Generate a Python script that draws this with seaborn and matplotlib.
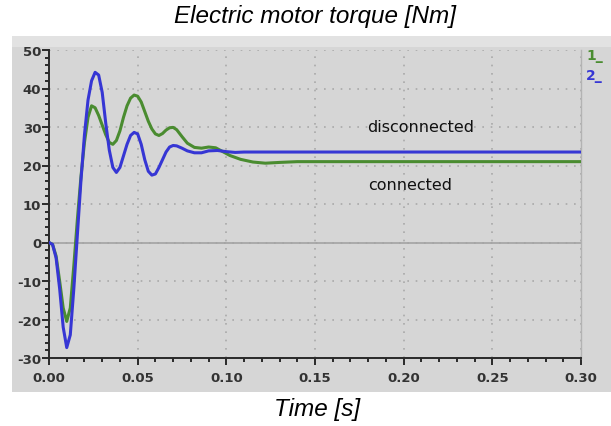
import numpy as np
import pandas as pd
import matplotlib
matplotlib.use("Agg")
import matplotlib.pyplot as plt
from matplotlib.patches import Rectangle
from matplotlib.ticker import MultipleLocator
import seaborn as sns

# ---- data ----
t_blue = [0.000, 0.002, 0.004, 0.006, 0.008, 0.010, 0.012, 0.014, 0.016, 0.018,
          0.020, 0.022, 0.024, 0.026, 0.028, 0.030, 0.032, 0.034, 0.036, 0.038,
          0.040, 0.042, 0.044, 0.046, 0.048, 0.050, 0.052, 0.054, 0.056, 0.058,
          0.060, 0.062, 0.064, 0.066, 0.068, 0.070, 0.072, 0.075, 0.078, 0.082,
          0.086, 0.090, 0.095, 0.100, 0.105, 0.110, 0.300]
y_blue = [0.0, -0.5, -4.0, -12.0, -22.0, -27.3, -24.0, -12.0, 2.0, 16.0,
          28.0, 37.0, 42.0, 44.2, 43.5, 39.0, 31.0, 24.0, 19.5, 18.2,
          19.5, 22.5, 25.5, 27.8, 28.6, 28.2, 25.5, 21.5, 18.5, 17.5,
          17.8, 19.5, 21.5, 23.5, 24.8, 25.2, 25.1, 24.5, 23.8, 23.3,
          23.3, 23.8, 23.9, 23.6, 23.4, 23.5, 23.5]

t_green = [0.000, 0.002, 0.004, 0.006, 0.008, 0.010, 0.012, 0.014, 0.016, 0.018,
           0.020, 0.022, 0.024, 0.026, 0.028, 0.030, 0.032, 0.034, 0.036, 0.038,
           0.040, 0.042, 0.044, 0.046, 0.048, 0.050, 0.052, 0.054, 0.056, 0.058,
           0.060, 0.062, 0.064, 0.066, 0.068, 0.070, 0.072, 0.075, 0.078, 0.082,
           0.086, 0.090, 0.094, 0.098, 0.102, 0.108, 0.115, 0.122, 0.130, 0.140,
           0.300]
y_green = [0.0, -0.5, -3.5, -10.0, -17.0, -20.5, -17.0, -6.0, 6.0, 17.0,
           26.0, 32.5, 35.5, 35.0, 33.0, 30.5, 28.0, 26.0, 25.5, 26.5,
           29.0, 32.5, 35.5, 37.5, 38.3, 38.0, 36.5, 34.0, 31.5, 29.5,
           28.2, 27.8, 28.3, 29.2, 29.8, 29.9, 29.3, 27.5, 25.8, 24.7,
           24.5, 24.8, 24.6, 23.6, 22.6, 21.6, 20.9, 20.6, 20.8, 21.0,
           21.0]

series_names = ["1", "2"]
series_colors = ["#4a8c30", "#3636d4"]
title = "Electric motor torque [Nm]"
xlabel = "Time [s]"
annotations = ["disconnected", "connected"]

df = pd.concat([
    pd.DataFrame({"t": t_green, "torque": y_green, "series": "1"}),
    pd.DataFrame({"t": t_blue, "torque": y_blue, "series": "2"}),
], ignore_index=True)

# ---- figure ----
sns.set_theme(style="white")
plt.rcParams["font.family"] = ["DejaVu Sans"]
plt.rcParams["axes.unicode_minus"] = False

W, H = 611, 427
fig = plt.figure(figsize=(W / 100, H / 100), dpi=100)
fig.patch.set_facecolor("white")

def fx(px):
    return px / W

def fy(py):
    return 1 - py / H

# gray panel background
fig.add_artist(Rectangle((fx(12), fy(393)), 1 - fx(12), fy(37) - fy(393),
                         transform=fig.transFigure, facecolor="#d6d6d6",
                         edgecolor="none", zorder=0))
fig.add_artist(Rectangle((fx(12), fy(48)), 1 - fx(12), fy(37) - fy(48),
                         transform=fig.transFigure, facecolor="#e2e2e2",
                         edgecolor="none", zorder=0))

ax = fig.add_axes([fx(49), fy(359), fx(581) - fx(49), fy(51) - fy(359)])
ax.set_facecolor("#d6d6d6")

sns.lineplot(data=df, x="t", y="torque", hue="series", palette=series_colors,
             hue_order=series_names, ax=ax, linewidth=2.2, legend=False,
             sort=False, zorder=3)

ax.set_xlim(0, 0.30)
ax.set_ylim(-30, 50)
ax.xaxis.set_major_locator(MultipleLocator(0.05))
ax.xaxis.set_minor_locator(MultipleLocator(0.01))
ax.yaxis.set_major_locator(MultipleLocator(10))
ax.yaxis.set_minor_locator(MultipleLocator(2))
ax.xaxis.set_major_formatter(matplotlib.ticker.FormatStrFormatter("%.2f"))

ax.grid(True, which="major", color="#a9a9a9", linestyle=(0, (1, 4)), linewidth=1.2, zorder=1)
ax.axhline(0, color="#a3a3a3", linewidth=1.2, zorder=2)

ax.spines["top"].set_visible(False)
ax.spines["right"].set_color("#b3b3b3")
ax.spines["right"].set_linewidth(1.0)
for s in ["left", "bottom"]:
    ax.spines[s].set_color("#2a2a2a")
    ax.spines[s].set_linewidth(1.4)

ax.tick_params(which="major", direction="out", length=5, width=1.4, color="#2a2a2a",
               labelsize=9.5, labelcolor="#333333", bottom=True, left=True)
ax.tick_params(which="minor", direction="out", length=3, width=1.4, color="#2a2a2a",
               bottom=True, left=True)
ax.tick_params(axis="x", pad=4)
ax.tick_params(axis="y", pad=0.5)
for lab in ax.get_xticklabels() + ax.get_yticklabels():
    lab.set_fontweight("bold")

ax.set_xlabel("")
ax.set_ylabel("")

# text
fig.text(fx(315), fy(17), title, ha="center", va="center", fontsize=17.5,
         style="italic", family=["Liberation Sans", "DejaVu Sans"], color="black")
fig.text(fx(317), fy(410), xlabel, ha="center", va="center", fontsize=17.5,
         style="italic", family=["Liberation Sans", "DejaVu Sans"], color="black")

fig.text(fx(421), fy(127), annotations[0], ha="center", va="center", fontsize=11.5,
         color="#111111")
fig.text(fx(410), fy(185), annotations[1], ha="center", va="center", fontsize=11.5,
         color="#111111")

# legend-like labels at right
fig.text(fx(586), fy(56), series_names[0] + "_", ha="left", va="center", fontsize=10,
         color=series_colors[0], fontweight="bold")
fig.text(fx(586), fy(76), series_names[1] + "_", ha="left", va="center", fontsize=10,
         color=series_colors[1], fontweight="bold")

fig.savefig("out.png", dpi=100)
